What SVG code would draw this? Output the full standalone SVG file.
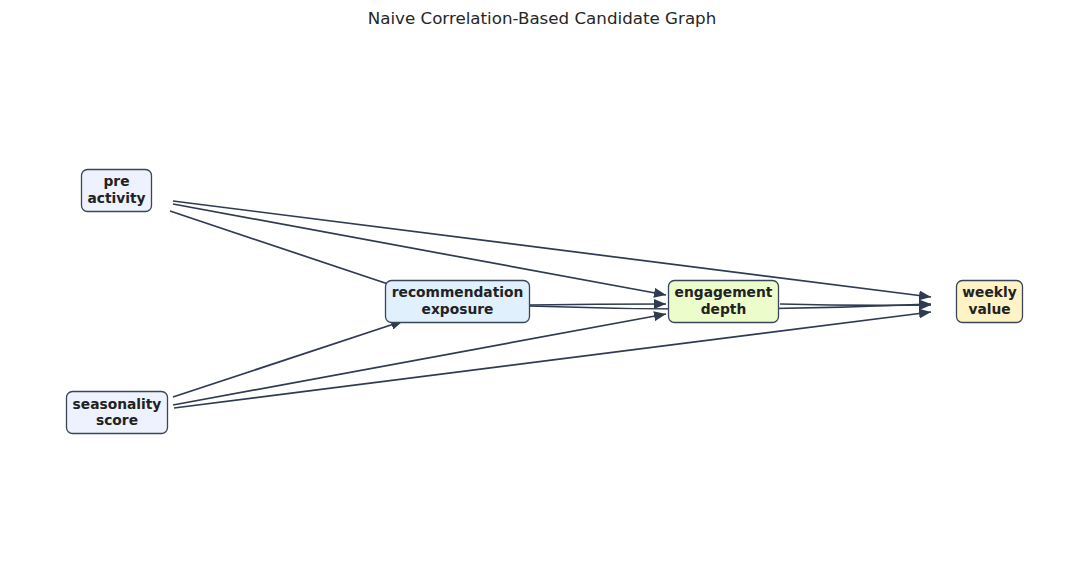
<svg xmlns="http://www.w3.org/2000/svg" width="1084" height="564" viewBox="0 0 1084 564">
<style>
.title{font-family:"DejaVu Sans",sans-serif;font-size:16.7px;fill:#262626}
.lbl{font-family:"DejaVu Sans",sans-serif;font-size:13.8px;font-weight:bold;fill:#222;text-anchor:middle}
.box{stroke:#3a4558;stroke-width:1.3}
.edge{fill:none;stroke:#2f3b50;stroke-width:1.7;marker-end:url(#ah)}
</style>
<defs>
<marker id="ah" viewBox="0 0 12 10" refX="12" refY="5" markerWidth="12" markerHeight="10" orient="auto" markerUnits="userSpaceOnUse">
<path d="M0,0 L12,5 L0,10 Z" fill="#2f3b50"/>
</marker>
</defs>
<rect width="1084" height="564" fill="#fff"/>
<text class="title" x="542" y="24" text-anchor="middle">Naive Correlation-Based Candidate Graph</text>
<g id="connectors">
<path class="edge" d="M173,201 L931,297"/>
<path class="edge" d="M173,204 L666,295"/>
<path class="edge" d="M170,211 L403,289"/>
<path class="edge" d="M173,397 L403,321"/>
<path class="edge" d="M173,405 L666,314"/>
<path class="edge" d="M174,408 L931,312"/>
<path class="edge" d="M529,305 Q597,304 666,304"/>
<path class="edge" d="M529,306 Q730,313 931,304"/>
<path class="edge" d="M780,304 Q855,306 931,305"/>
</g>
<g id="node-pre">
<rect class="box" x="81.5" y="169.5" width="70" height="42" rx="6" fill="#eef2fe"/>
<text class="lbl" x="116.5" y="186">pre</text>
<text class="lbl" x="116.5" y="203">activity</text>
</g>
<g id="node-seasonality">
<rect class="box" x="66.5" y="391.5" width="101" height="42" rx="6" fill="#eef2fe"/>
<text class="lbl" x="117" y="409">seasonality</text>
<text class="lbl" x="117" y="425">score</text>
</g>
<g id="node-recommendation">
<rect class="box" x="385.5" y="280.5" width="144" height="42" rx="6" fill="#e0f0fc"/>
<text class="lbl" x="457.5" y="297">recommendation</text>
<text class="lbl" x="457.5" y="314">exposure</text>
</g>
<g id="node-engagement">
<rect class="box" x="668.5" y="280.5" width="110" height="42" rx="6" fill="#ecfccb"/>
<text class="lbl" x="723.5" y="297">engagement</text>
<text class="lbl" x="723.5" y="314">depth</text>
</g>
<g id="node-weekly">
<rect class="box" x="956.5" y="280.5" width="66" height="42" rx="6" fill="#fef3c7"/>
<text class="lbl" x="989.5" y="297">weekly</text>
<text class="lbl" x="989.5" y="314">value</text>
</g>
</svg>
